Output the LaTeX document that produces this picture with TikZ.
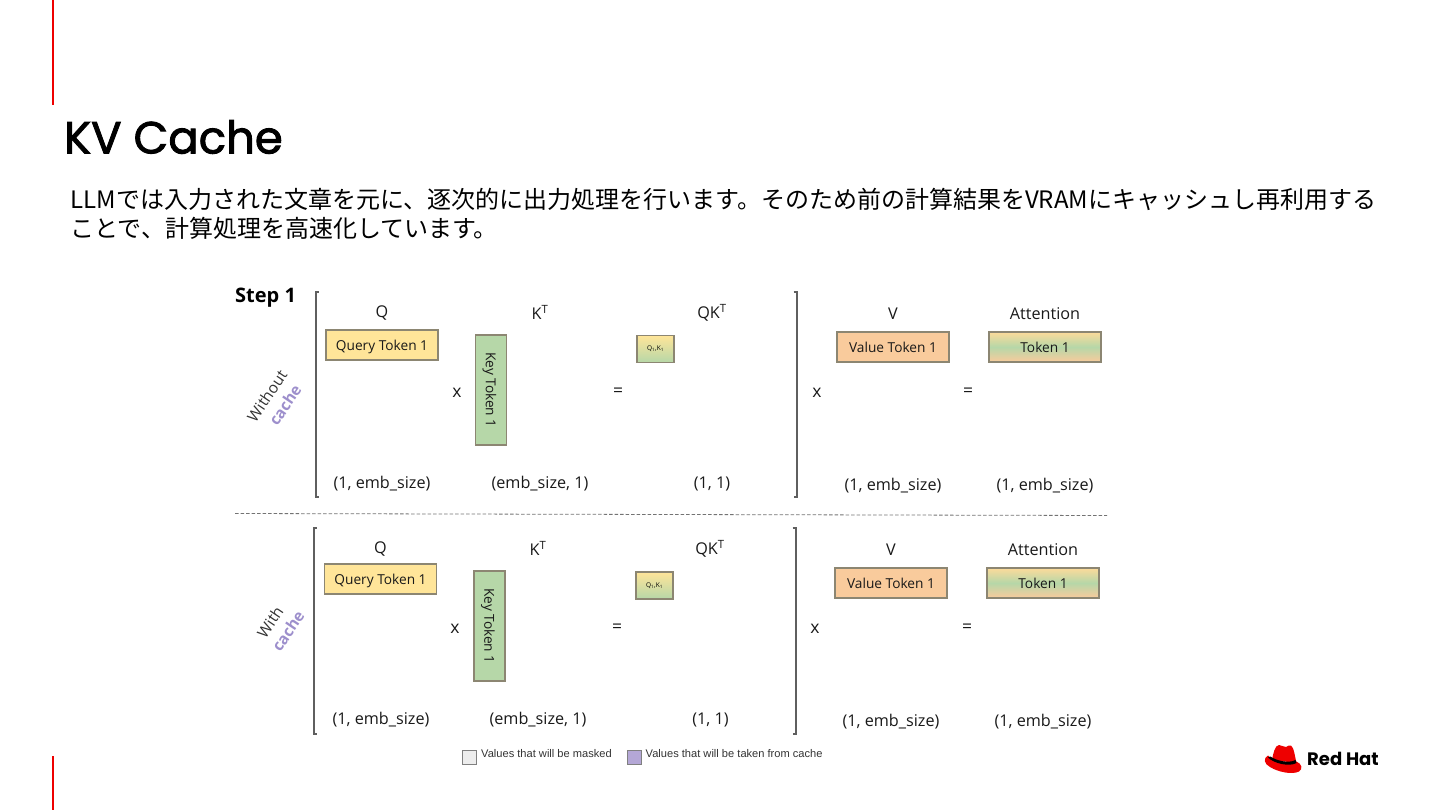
\documentclass[tikz,border=0pt]{standalone}
\usepackage{fontspec}
\usepackage{xcolor}
\setmainfont{Open Sans}
\newfontfamily\cjkfont{Noto Sans CJK JP}
\newfontfamily\titlefont[FakeBold=2]{Poppins}
\newfontfamily\logofont{Poppins}
\newfontfamily\legendfont{Liberation Sans}
\definecolor{rhred}{HTML}{EE0000}
\definecolor{queryfill}{HTML}{FFE599}
\definecolor{keyfill}{HTML}{B6D7A8}
\definecolor{valuefill}{HTML}{F9CB9C}
\definecolor{boxedge}{HTML}{8C8672}
\definecolor{cachefill}{HTML}{B4A7D6}
\definecolor{cachetext}{HTML}{9D8FCC}
\definecolor{bracketgray}{HTML}{5F5F5F}
\tikzset{
  lbl/.style={font=\fontsize{16.2}{18}\selectfont, text=black!90, inner sep=0pt, yshift=-1.6pt},
  oplbl/.style={lbl, font=\fontsize{17.5}{18}\selectfont},
  tokenbox/.style={draw=boxedge, line width=1.1pt, minimum width=112, minimum height=30, inner sep=0pt, text depth=0pt, text=black!90, font=\fontsize{13.7}{17}\selectfont},
  querybox/.style={tokenbox, fill=queryfill},
  valuebox/.style={tokenbox, fill=valuefill},
  attnbox/.style={tokenbox, top color=queryfill!60!valuefill, bottom color=valuefill, middle color=keyfill},
  keybox/.style={tokenbox, fill=keyfill, rotate=-90, minimum width=110, minimum height=31},
  qkbox/.style={draw=boxedge, line width=1.1pt, minimum width=37, minimum height=27, inner sep=0pt, top color=queryfill, bottom color=keyfill, font=\fontsize{6.5}{8}\selectfont},
  bracket/.style={draw=bracketgray, line width=2pt},
  sidelbl/.style={font=\fontsize{15.5}{18}\selectfont, text=black!80, rotate=56, inner sep=0pt},
  cachelbl/.style={font=\fontsize{15.5}{18}\selectfont\bfseries, text=cachetext, rotate=56, inner sep=0pt},
  swatch/.style={draw=black!50, line width=1pt, minimum size=14, inner sep=0pt},
  legendlbl/.style={font=\legendfont\fontsize{11.1}{12}\selectfont, text=black!80, anchor=west, inner sep=0pt},
}
\begin{document}
\begin{tikzpicture}[x=1pt, y=-1pt]
    \useasboundingbox (0,0) rectangle (1440,810);
    % Slide frame
    \fill[rhred] (52.2,0) rectangle (53.8,105);
    \fill[rhred] (52.2,756) rectangle (53.8,810);
    \node[anchor=west, inner sep=0pt, font=\titlefont\fontsize{45}{50}\selectfont] (title) at (64,137) {KV Cache};
    \node[anchor=west, inner sep=0pt, font=\cjkfont\fontsize{24}{29}\selectfont] (introa) at (70.5,199.5) {LLMでは入力された文章を元に、逐次的に出力処理を行います。そのため前の計算結果をVRAMにキャッシュし再利用する};
    \node[anchor=west, inner sep=0pt, font=\cjkfont\fontsize{24}{29}\selectfont] (introb) at (70.5,228.5) {ことで、計算処理を高速化しています。};
    % Without cache
    \node[anchor=west, inner sep=0pt, font=\fontsize{20}{22}\selectfont\bfseries] (step) at (235,298) {Step 1};
    \node[sidelbl] (woa) at (267,396) {Without};
    \node[cachelbl] (wob) at (285,405) {cache};
    \draw[bracket] (318.5,292) -- (315.5,292) -- (315.5,497) -- (318.5,497);
    \draw[bracket] (793.5,292) -- (797,292) -- (797,497) -- (793.5,497);
    \node[lbl] (qa) at (382,311) {Q};
    \node[lbl] (kta) at (540,311) {K\textsuperscript{T}};
    \node[lbl] (qkta) at (712,311) {QK\textsuperscript{T}};
    \node[lbl] (va) at (893,312) {V};
    \node[lbl] (atta) at (1045,312) {Attention};
    \node[querybox] (querya) at (382,345) {Query Token 1};
    \node[keybox] (keya) at (491,390) {Key Token 1};
    \node[qkbox] (qka) at (655.5,349) {Q\textsubscript{1},K\textsubscript{1}};
    \node[valuebox] (valuea) at (893,347) {Value Token 1};
    \node[attnbox] (tokena) at (1045,347) {Token 1};
    \node[oplbl] (xa) at (457,391) {x};
    \node[oplbl] (eqa) at (618,391) {=};
    \node[oplbl] (xb) at (817,391) {x};
    \node[oplbl] (eqb) at (968,391) {=};
    \node[lbl] (dima) at (382,482) {(1, emb\_size)};
    \node[lbl] (dimb) at (540,482) {(emb\_size, 1)};
    \node[lbl] (dimc) at (712,482) {(1, 1)};
    \node[lbl] (dimd) at (893,484) {(1, emb\_size)};
    \node[lbl] (dime) at (1045,484) {(1, emb\_size)};
    % Separator
    \coordinate (sepl) at (235,513.5);
    \coordinate (sepr) at (1107,515.5);
    \draw[black!55, line width=0.8pt, dash pattern=on 3.5pt off 2pt] (sepl) -- (sepr);
    % With cache
    \node[sidelbl] (wia) at (270,622) {With};
    \node[cachelbl] (wib) at (288,631) {cache};
    \draw[bracket] (316.5,528) -- (313.5,528) -- (313.5,734) -- (316.5,734);
    \draw[bracket] (792.5,528) -- (796,528) -- (796,734) -- (792.5,734);
    \node[lbl] (qb) at (380.5,547) {Q};
    \node[lbl] (ktb) at (538,547) {K\textsuperscript{T}};
    \node[lbl] (qktb) at (710,547) {QK\textsuperscript{T}};
    \node[lbl] (vb) at (891,548) {V};
    \node[lbl] (attb) at (1043,548) {Attention};
    \node[querybox] (queryb) at (380.5,579) {Query Token 1};
    \node[keybox] (keyb) at (489.5,626) {Key Token 1};
    \node[qkbox] (qkb) at (654.5,585.5) {Q\textsubscript{1},K\textsubscript{1}};
    \node[valuebox] (valueb) at (891,583) {Value Token 1};
    \node[attnbox] (tokenb) at (1043,583) {Token 1};
    \node[oplbl] (xc) at (455,627) {x};
    \node[oplbl] (eqc) at (617,627) {=};
    \node[oplbl] (xd) at (815,627) {x};
    \node[oplbl] (eqd) at (967,627) {=};
    \node[lbl] (dimf) at (381,718) {(1, emb\_size)};
    \node[lbl] (dimg) at (538,718) {(emb\_size, 1)};
    \node[lbl] (dimh) at (710.5,718) {(1, 1)};
    \node[lbl] (dimi) at (891,720) {(1, emb\_size)};
    \node[lbl] (dimj) at (1043,720) {(1, emb\_size)};
    % Legend
    \node[swatch, fill=black!7] (swa) at (469.5,757) {};
    \node[legendlbl] (lega) at (481,754) {Values that will be masked};
    \node[swatch, fill=cachefill] (swb) at (634.5,757) {};
    \node[legendlbl] (legb) at (645.5,754) {Values that will be taken from cache};
    % Logo
    \fill[rhred] (1272,760) .. controls (1273,754) and (1275,745) .. (1279,745) .. controls (1282,745) and (1284,747.5) .. (1286,747) .. controls (1288,746.5) and (1289,744.5) .. (1291,745.5) .. controls (1294,747.5) and (1295,757) .. (1296.5,763) -- cycle;
    \fill[rhred] (1268,755.5) .. controls (1263,758) and (1264,764) .. (1270,767) .. controls (1278,772) and (1292,775) .. (1299,771.5) .. controls (1303,769) and (1302,764) .. (1296.5,761.5) .. controls (1289,766) and (1274,763) .. cycle;
    \fill[black] (1270.5,756.5) .. controls (1275,760) and (1288,764) .. (1295.5,760) -- (1296.5,763) .. controls (1289,767) and (1274,763.5) .. (1268,757.5) -- cycle;
    \node[anchor=west, inner sep=0pt, font=\logofont\bfseries\fontsize{18}{20}\selectfont] (logo) at (1307,759) {Red Hat};
\end{tikzpicture}
\end{document}
